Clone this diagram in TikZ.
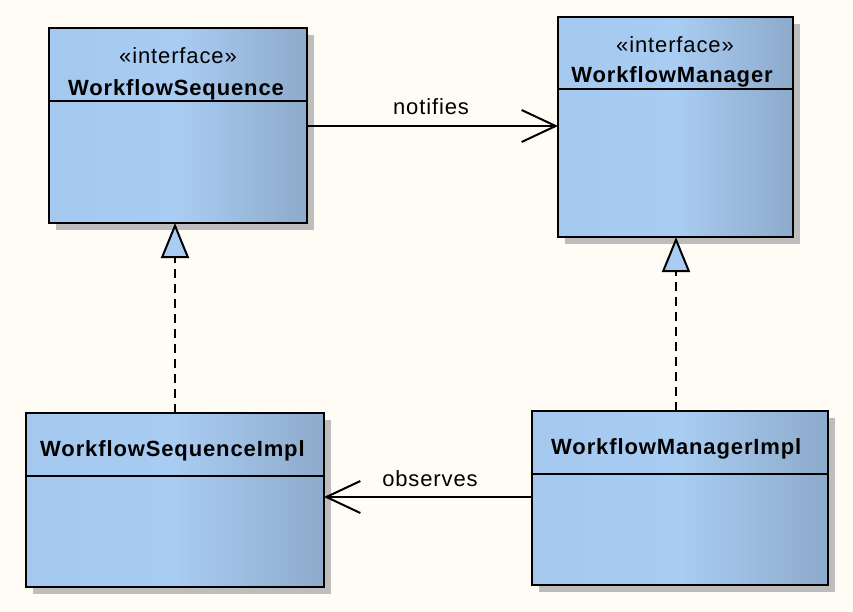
\documentclass[tikz,border=0pt]{standalone}
\usepackage{fontspec}
\setmainfont{Liberation Sans}[LetterSpace=4]
\usetikzlibrary{arrows.meta,shadows}
\definecolor{bgc}{HTML}{FFFCF5}
\definecolor{cA}{HTML}{A5C8EE}
\definecolor{cB}{HTML}{A9CCF2}
\definecolor{cC}{HTML}{8DABCB}
\definecolor{shd}{HTML}{BDBDBD}
\pgfdeclarehorizontalshading{clsshade}{100bp}{color(0bp)=(cA); color(25bp)=(cA); color(50bp)=(cB); color(75bp)=(cC); color(100bp)=(cC)}
\tikzset{
  cls/.style={draw=black, line width=2pt, shading=clsshade, inner sep=0pt, outer sep=0pt,
    anchor=north west, drop shadow={shadow xshift=7pt, shadow yshift=-7pt, fill=shd, opacity=1}},
  divider/.style={draw=black, line width=2pt},
  stereo/.style={font=\fontsize{22}{25}\selectfont, anchor=base, inner sep=0pt},
  cname/.style={font=\fontsize{22}{25}\selectfont\bfseries, anchor=base, inner sep=0pt},
  lbl/.style={font=\fontsize{22}{25}\selectfont, anchor=base, inner sep=0pt},
  assoc/.style={line width=2pt, -{Straight Barb[length=34pt,width=32pt,line width=2pt]}},
  real/.style={line width=2pt, dash pattern=on 9pt off 6pt,
    -{Triangle[open, length=35pt, width=28pt, fill=cB, line width=2pt]}}
}
\begin{document}
\begin{tikzpicture}[x=1pt,y=-1pt]
\fill[bgc] (0,0) rectangle (853,611);
\useasboundingbox (0,0) rectangle (853,611);
% classes
\node[cls, minimum width=258pt, minimum height=195pt] (A) at (49,28) {};
\node[cls, minimum width=235pt, minimum height=220pt] (B) at (558,17) {};
\node[cls, minimum width=298pt, minimum height=174pt] (C) at (26,413) {};
\node[cls, minimum width=296pt, minimum height=174pt] (D) at (532,411) {};
% dividers
\draw[divider] (A.west |- 0,101) -- (A.east |- 0,101);
\draw[divider] (B.west |- 0,89) -- (B.east |- 0,89);
\draw[divider] (C.west |- 0,476) -- (C.east |- 0,476);
\draw[divider] (D.west |- 0,474) -- (D.east |- 0,474);
% texts
\node[stereo] (As) at (178,63) {«interface»};
\node[cname] (An) at (176,95) {WorkflowSequence};
\node[stereo] (Bs) at (675,52) {«interface»};
\node[cname] (Bn) at (672,82) {WorkflowManager};
\node[cname, anchor=base west] (Cn) at (40,456) {WorkflowSequenceImpl};
\node[cname, anchor=base west] (Dn) at (551,454) {WorkflowManagerImpl};
% associations
\draw[assoc] (A.east |- 0,126) -- (B.west |- 0,126);
\node[lbl] (ln) at (431,114) {notifies};
\draw[assoc] (D.west |- 0,497) -- (C.east |- 0,497);
\node[lbl] (lo) at (430,486) {observes};
% realizations
\draw[real] (C.north -| 175,0) -- (A.south -| 175,0);
\draw[real] (D.north -| 676,0) -- (B.south -| 676,0);
\end{tikzpicture}
\end{document}
